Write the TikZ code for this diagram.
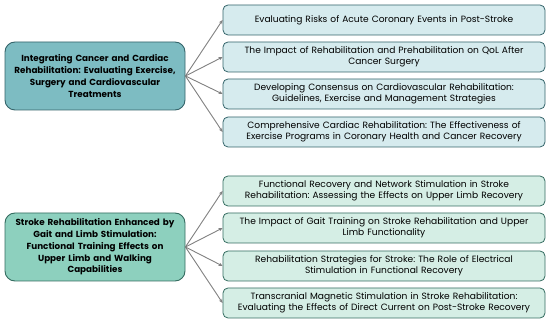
\documentclass[tikz,border=0pt]{standalone}
\usepackage{fontspec}
\setmainfont{Poppins}
\usetikzlibrary{arrows.meta}
\frenchspacing
\definecolor{hubA}{RGB}{125,188,194}
\definecolor{boxA}{RGB}{214,235,238}
\definecolor{hubB}{RGB}{141,208,190}
\definecolor{boxB}{RGB}{213,238,229}
\definecolor{edgeA}{RGB}{52,100,106}
\definecolor{edgeB}{RGB}{52,108,96}
\definecolor{arrowgray}{RGB}{128,128,128}
\tikzset{
  hub/.style={draw, line width=0.9pt, rounded corners=10pt, minimum width=180pt, minimum height=68pt, text width=178pt, align=center, inner sep=0pt, font=\fontsize{8.8}{11.7}\selectfont\bfseries},
  leaf/.style={draw, line width=0.8pt, rounded corners=5pt, minimum width=322pt, minimum height=30pt, text width=318pt, align=center, inner sep=0pt, font=\fontsize{9.1}{11}\selectfont},
  conn/.style={draw=arrowgray, line width=0.9pt, -{Stealth[length=4pt,width=3.5pt]}}
}
\begin{document}
\begin{tikzpicture}[x=1pt,y=-1pt]
\useasboundingbox (0,0) rectangle (550,323);
\node[hub, fill=hubA, draw=edgeA] (h1) at (95,76) {Integrating Cancer and Cardiac\\Rehabilitation: Evaluating Exercise,\\Surgery and Cardiovascular\\Treatments};
\node[leaf, fill=boxA, draw=edgeA] (a1) at (384,20) {Evaluating Risks of Acute Coronary Events in Post-Stroke};
\node[leaf, fill=boxA, draw=edgeA] (a2) at (384,57) {The Impact of Rehabilitation and Prehabilitation on QoL After\\Cancer Surgery};
\node[leaf, fill=boxA, draw=edgeA] (a3) at (384,94) {Developing Consensus on Cardiovascular Rehabilitation:\\Guidelines, Exercise and Management Strategies};
\node[leaf, fill=boxA, draw=edgeA] (a4) at (384,132) {Comprehensive Cardiac Rehabilitation: The Effectiveness of\\Exercise Programs in Coronary Health and Cancer Recovery};
\node[hub, fill=hubB, draw=edgeB] (h2) at (95,247) {Stroke Rehabilitation Enhanced by\\Gait and Limb Stimulation:\\Functional Training Effects on\\Upper Limb and Walking\\Capabilities};
\node[leaf, fill=boxB, draw=edgeB] (b1) at (384,191) {Functional Recovery and Network Stimulation in Stroke\\Rehabilitation: Assessing the Effects on Upper Limb Recovery};
\node[leaf, fill=boxB, draw=edgeB] (b2) at (384,228) {The Impact of Gait Training on Stroke Rehabilitation and Upper\\Limb Functionality};
\node[leaf, fill=boxB, draw=edgeB] (b3) at (384,266) {Rehabilitation Strategies for Stroke: The Role of Electrical\\Stimulation in Functional Recovery};
\node[leaf, fill=boxB, draw=edgeB] (b4) at (384,303) {Transcranial Magnetic Stimulation in Stroke Rehabilitation:\\Evaluating the Effects of Direct Current on Post-Stroke Recovery};
\foreach \t in {a1,a2,a3,a4} \draw[conn] (h1.east) -- (\t.west);
\foreach \t in {b1,b2,b3,b4} \draw[conn] (h2.east) -- (\t.west);
\end{tikzpicture}
\end{document}
